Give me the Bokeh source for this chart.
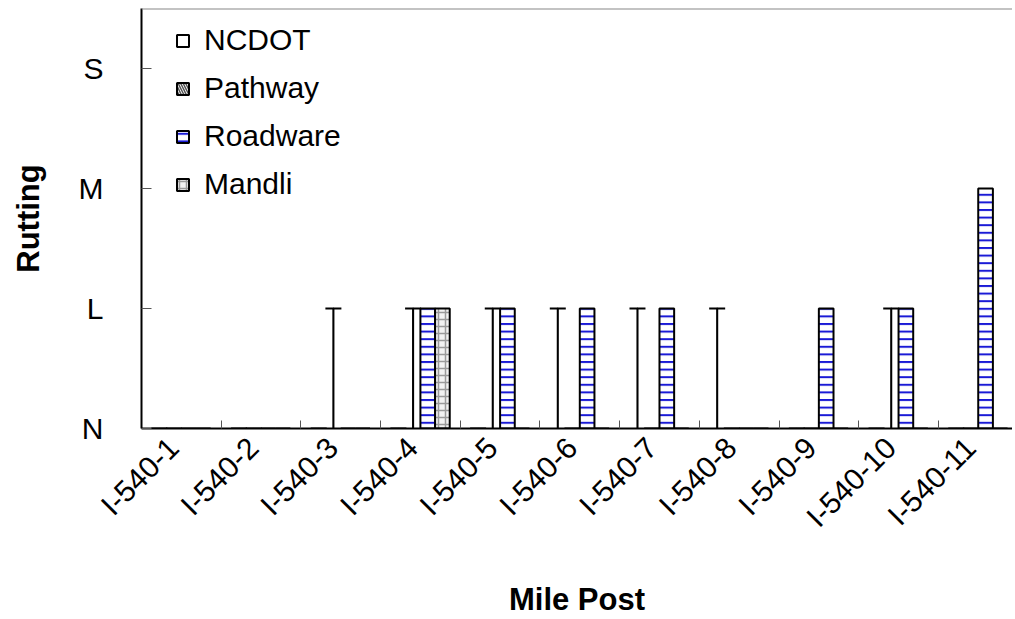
import math
from bokeh.plotting import figure
from bokeh.models import (FixedTicker, Range1d, Legend, LegendItem, Span,
                          ColumnDataSource)
from bokeh.transform import dodge
from bokeh.embed import file_html
from bokeh.resources import INLINE

# ---------------- data ----------------
mileposts = ["I-540-1", "I-540-2", "I-540-3", "I-540-4", "I-540-5", "I-540-6",
             "I-540-7", "I-540-8", "I-540-9", "I-540-10", "I-540-11"]
levels = ["N", "L", "M", "S"]          # rutting severity tick labels
ncdot    = ["N", "N", "N", "N", "N", "L", "L", "L", "N", "N", "N"]
pathway  = ["N", "N", "L", "L", "L", "N", "N", "N", "N", "L", "N"]
roadware = ["N", "N", "N", "L", "L", "L", "L", "N", "L", "L", "M"]
mandli   = ["N", "N", "N", "L", "N", "N", "N", "N", "N", "N", "N"]

# ---------------- build ----------------
FONT = "Liberation Sans"
xc = [i + 0.5 for i in range(len(mileposts))]
src = ColumnDataSource(dict(
    x=xc,
    ncdot=[levels.index(v) for v in ncdot],
    pathway=[levels.index(v) for v in pathway],
    roadware=[levels.index(v) for v in roadware],
    mandli=[levels.index(v) for v in mandli],
))

p = figure(width=1012, height=619, output_backend="svg", toolbar_location=None,
           x_range=Range1d(0, 10.93), y_range=Range1d(0, 3.5),
           min_border_left=141, min_border_right=0, min_border_top=8,
           min_border_bottom=191)
p.outline_line_color = None
p.xgrid.visible = False
p.ygrid.visible = False
p.background_fill_color = "white"

bw = 0.184
offs = [-1.5 * bw, -0.5 * bw, 0.5 * bw, 1.5 * bw]

r_ncdot = p.vbar(x=dodge("x", offs[0]), top="ncdot", bottom=0, width=0.001,
                 source=src, fill_color="white", line_color="black", line_width=2)
p.scatter(x=dodge("x", offs[0]), y="ncdot", source=src, marker="dash", size=16,
          line_color="black", line_width=2)

r_path = p.vbar(x=dodge("x", offs[1]), top="pathway", bottom=0, width=0.001,
                source=src, fill_color="white", hatch_pattern="\\",
                hatch_color="#555555", hatch_scale=5, hatch_weight=1.5,
                line_color="black", line_width=2)
p.scatter(x=dodge("x", offs[1]), y="pathway", source=src, marker="dash", size=16,
          line_color="black", line_width=2)

r_road = p.vbar(x=dodge("x", offs[2]), top="roadware", bottom=0, width=bw,
                source=src, fill_color="white", hatch_pattern="-",
                hatch_color="#1a1ad6", hatch_scale=7.6, hatch_weight=2,
                line_color="black", line_width=2)

r_mand = p.vbar(x=dodge("x", offs[3]), top="mandli", bottom=0, width=bw,
                source=src, fill_color="#f2f2f2", hatch_pattern="+",
                hatch_color="#9a9a9a", hatch_scale=7, hatch_weight=1.5,
                line_color="black", line_width=2)

# top border of plot area
p.add_layout(Span(location=p.y_range.end, dimension="width",
                  line_color="#888888", line_width=2))

# ---------------- axes ----------------
label_shift = -0.1   # rotated labels end just left of the category centre
label_pos = [x + label_shift for x in xc]
xa = p.xaxis[0]
xa.ticker = FixedTicker(ticks=label_pos,
                        minor_ticks=list(range(len(mileposts) + 1)))
xa.major_label_overrides = {x: lab for x, lab in zip(label_pos, mileposts)}
xa.major_label_orientation = math.pi / 4
xa.major_tick_in = 0
xa.major_tick_out = 0
xa.minor_tick_in = 8
xa.minor_tick_out = 0
xa.minor_tick_line_color = "#555555"
xa.axis_line_color = "black"
xa.axis_line_width = 2
xa.major_label_text_font = FONT
xa.major_label_text_font_size = "30px"
xa.major_label_text_color = "black"
xa.major_label_standoff = 14
xa.axis_label = "Mile Post"
xa.axis_label_text_font = FONT
xa.axis_label_text_font_size = "31px"
xa.axis_label_text_font_style = "bold"
xa.axis_label_text_color = "black"
xa.axis_label_standoff = 34

ya = p.yaxis[0]
ya.ticker = FixedTicker(ticks=list(range(len(levels))))
ya.major_label_overrides = {i: lab for i, lab in enumerate(levels)}
ya.major_tick_in = 10
ya.major_tick_out = 0
ya.major_tick_line_color = "#555555"
ya.minor_tick_line_color = None
ya.axis_line_color = "black"
ya.axis_line_width = 2
ya.major_label_text_font = FONT
ya.major_label_text_font_size = "30px"
ya.major_label_text_color = "black"
ya.major_label_standoff = 38
ya.axis_label = "Rutting"
ya.axis_label_text_font = FONT
ya.axis_label_text_font_size = "31px"
ya.axis_label_text_font_style = "bold"
ya.axis_label_text_color = "black"
ya.axis_label_standoff = 30

# ---------------- legend ----------------
legend = Legend(items=[
    LegendItem(label="NCDOT", renderers=[r_ncdot]),
    LegendItem(label="Pathway", renderers=[r_path]),
    LegendItem(label="Roadware", renderers=[r_road]),
    LegendItem(label="Mandli", renderers=[r_mand]),
], location=(34, 227), border_line_color=None, background_fill_alpha=0,
    padding=0, margin=0, spacing=14, glyph_height=15, glyph_width=15,
    label_standoff=14, label_height=20, label_text_font=FONT,
    label_text_font_size="30px", label_text_color="black")
p.add_layout(legend)

open("out.html", "w").write(file_html(p, INLINE))
